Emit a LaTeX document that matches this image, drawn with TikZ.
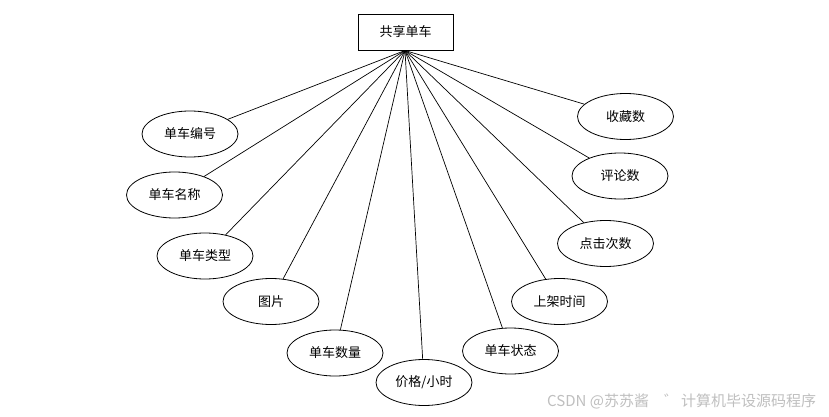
\documentclass[tikz,border=0pt]{standalone}
\usepackage{fontspec}
\newfontfamily\cjk{Noto Sans CJK SC}
\usetikzlibrary{shapes.geometric}
\begin{document}
\begin{tikzpicture}[x=1pt,y=-1pt,
  attr/.style={ellipse,draw,line width=0.8pt,minimum width=96pt,minimum height=46pt,inner sep=0pt,font=\cjk\fontsize{13}{15}\selectfont},
  ent/.style={rectangle,draw,line width=0.8pt,minimum width=95pt,minimum height=36pt,inner sep=0pt,font=\cjk\fontsize{13}{15}\selectfont},
  link/.style={line width=0.7pt},
  wmark/.style={anchor=base west,inner sep=0pt,text=black!25,font=\cjk\fontsize{15}{17}\selectfont}]
\useasboundingbox[fill=white] (0,0) rectangle (829,417);
\node[ent] (e) at (405.5,32) {共享单车};
\coordinate (h) at (405,50.5);
\node[attr] (a1) at (190,134) {单车编号};
\node[attr] (a2) at (174.5,195) {单车名称};
\node[attr] (a3) at (205,256) {单车类型};
\node[attr] (a4) at (271,301.5) {图片};
\node[attr] (a5) at (335,353) {单车数量};
\node[attr] (a6) at (424,382.5) {价格/小时};
\node[attr] (a7) at (510.5,351) {单车状态};
\node[attr] (a8) at (559.5,301.5) {上架时间};
\node[attr] (a9) at (605.5,243.5) {点击次数};
\node[attr] (a10) at (620,176) {评论数};
\node[attr] (a11) at (625.5,116.5) {收藏数};
\foreach \n in {a1,a2,a3,a4,a5,a6,a7,a8,a9,a10,a11}
  \draw[link] (h) -- (\n);
\node[wmark] (wm1) at (547,406) {CSDN @苏苏酱};
\node[wmark] (wm2) at (664,406) {゛};
\node[wmark] (wm3) at (681,406) {计算机毕设源码程序};
\end{tikzpicture}
\end{document}
